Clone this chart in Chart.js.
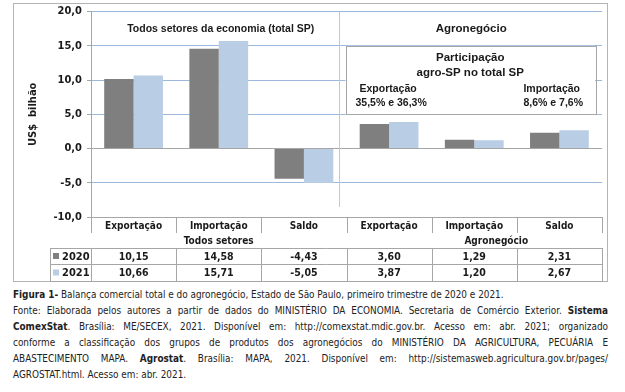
<!DOCTYPE html>
<html>
<head>
<meta charset="utf-8">
<script src="https://cdn.jsdelivr.net/npm/chart.js@4"></script>
<style>
body { margin:0; background:#fff; width:625px; height:392px; overflow:hidden; position:relative; }
#wrap { position:absolute; left:0; top:0; width:625px; height:285px; }
#caption { position:absolute; left:13px; top:287px; width:595px; font-family:"DejaVu Sans Condensed","DejaVu Sans",sans-serif; font-stretch:condensed; font-size:9.9px; line-height:16px; color:#222; }
#caption div { white-space:nowrap; }
#caption .j { text-align:justify; text-align-last:justify; white-space:normal; }
</style>
</head>
<body>
<div id="wrap"><canvas id="grafico"></canvas></div>
<div id="caption">
<div><b>Figura 1-</b> Balança comercial total e do agronegócio, Estado de São Paulo, primeiro trimestre de 2020 e 2021.</div>
<div class="j">Fonte: Elaborada pelos autores a partir de dados do MINISTÉRIO DA ECONOMIA. Secretaria de Comércio Exterior. <b>Sistema</b></div>
<div class="j"><b>ComexStat</b>. Brasília: ME/SECEX, 2021. Disponível em: http://comexstat.mdic.gov.br. Acesso em: abr. 2021; organizado</div>
<div class="j">conforme a classificação dos grupos de produtos dos agronegócios do MINISTÉRIO DA AGRICULTURA, PECUÁRIA E</div>
<div class="j">ABASTECIMENTO MAPA. <b>Agrostat</b>. Brasília: MAPA, 2021. Disponível em: http://sistemasweb.agricultura.gov.br/pages/</div>
<div>AGROSTAT.html. Acesso em: abr. 2021.</div>
</div>
<script>
// dados
const categorias = ['Exportação', 'Importação', 'Saldo', 'Exportação', 'Importação', 'Saldo'];
const grupos = ['Todos setores', 'Agronegócio'];
const anos = ['2020', '2021'];
const valores2020 = [10.15, 14.58, -4.43, 3.60, 1.29, 2.31];
const valores2021 = [10.66, 15.71, -5.05, 3.87, 1.20, 2.67];
const yTicks = [-10, -5, 0, 5, 10, 15, 20];
const titulos = ['Todos setores da economia (total SP)', 'Agronegócio'];
const participacao = ['Participação', 'agro-SP no total SP'];
const partExport = ['Exportação', '35,5% e 36,3%'];
const partImport = ['Importação', '8,6% e 7,6%'];

const cores = ['#7f7f7f', '#b9cde5'];
const FT = '"DejaVu Sans Condensed", "DejaVu Sans", sans-serif';
const FC = '"Liberation Sans", Arial, sans-serif';
const LINHA = '#a6a6a6';

function fmt(v) {
    return v.toFixed(2).replace('.', ',');
}

// desenha a tabela, as caixas e os textos extras
const extras = {
    id: 'extras',
    beforeDatasetsDraw(chart) {
        const ctx = chart.ctx;
        const x = chart.scales.x;
        const a = chart.chartArea;
        const div = (x.getPixelForValue(2) + x.getPixelForValue(3)) / 2;
        ctx.save();
        ctx.strokeStyle = '#c8c8c8';
        ctx.lineWidth = 1;
        ctx.beginPath();
        ctx.moveTo(Math.round(div - 8) + 0.5, a.top);
        ctx.lineTo(Math.round(div - 8) + 0.5, a.bottom - 10);
        ctx.stroke();
        ctx.restore();
    },
    afterDraw(chart) {
        const ctx = chart.ctx;
        const x = chart.scales.x;
        const y = chart.scales.y;
        const a = chart.chartArea;
        const w = x.getPixelForValue(1) - x.getPixelForValue(0);
        const bordas = [a.left];
        categorias.forEach((c, i) => bordas.push(x.getPixelForValue(i) + w / 2));
        const px = v => Math.round(v) + 0.5;

        ctx.save();
        // moldura externa
        ctx.strokeStyle = '#b4b4b4';
        ctx.lineWidth = 1;
        ctx.strokeRect(13.5, 3.5, 594, 278);

        // linhas da tabela
        ctx.strokeStyle = LINHA;
        const r0 = a.bottom, r1 = a.bottom + 16, r2 = a.bottom + 31, r3 = a.bottom + 47, r4 = a.bottom + 64;
        ctx.beginPath();
        bordas.forEach(b => {
            ctx.moveTo(px(b), r0); ctx.lineTo(px(b), r1);
            ctx.moveTo(px(b), r2); ctx.lineTo(px(b), r4);
        });
        const esq = a.left - 41;
        ctx.moveTo(px(esq), r2); ctx.lineTo(px(esq), r4);
        [r2, r3, r4].forEach(r => { ctx.moveTo(esq, px(r)); ctx.lineTo(a.right + 1, px(r)); });
        ctx.stroke();

        // textos da tabela
        ctx.fillStyle = '#1a1a1a';
        ctx.font = 'bold 10px ' + FT;
        ctx.textAlign = 'center';
        ctx.textBaseline = 'middle';
        categorias.forEach((c, i) => ctx.fillText(c, x.getPixelForValue(i), (r0 + r1) / 2 + 1));
        ctx.fillText(grupos[0], x.getPixelForValue(1), (r1 + r2) / 2 + 1);
        ctx.fillText(grupos[1], x.getPixelForValue(4) + 22, (r1 + r2) / 2 + 1);
        ctx.font = 'bold 10.5px ' + FT;
        valores2020.forEach((v, i) => ctx.fillText(fmt(v), x.getPixelForValue(i), (r2 + r3) / 2 + 1));
        valores2021.forEach((v, i) => ctx.fillText(fmt(v), x.getPixelForValue(i), (r3 + r4) / 2 + 1));

        // legenda dentro da tabela
        ctx.textAlign = 'left';
        ctx.font = 'bold 11px ' + FT;
        [[r2, r3], [r3, r4]].forEach((r, k) => {
            const m = (r[0] + r[1]) / 2;
            ctx.fillStyle = cores[k];
            ctx.fillRect(esq + 3, m - 3, 6, 6);
            ctx.fillStyle = '#1a1a1a';
            ctx.fillText(anos[k], esq + 12, m + 1);
        });

        // títulos das seções
        const faixa = (y.getPixelForValue(20) + y.getPixelForValue(15)) / 2;
        ctx.textAlign = 'center';
        ctx.font = 'bold 10.5px ' + FC;
        ctx.fillText(titulos[0], x.getPixelForValue(1) + 2, faixa);
        ctx.font = 'bold 11.5px ' + FC;
        ctx.fillText(titulos[1], x.getPixelForValue(4) - 3, faixa);

        // caixa de participação
        const bx0 = bordas[3] - 1, bx1 = a.right - 7;
        const by0 = y.getPixelForValue(15), by1 = y.getPixelForValue(5);
        ctx.fillStyle = '#fff';
        ctx.fillRect(bx0, by0, bx1 - bx0, by1 - by0);
        ctx.strokeStyle = LINHA;
        ctx.strokeRect(px(bx0), px(by0), Math.round(bx1 - bx0), Math.round(by1 - by0));
        ctx.fillStyle = '#1a1a1a';
        ctx.font = 'bold 11.5px ' + FC;
        const cx = (bx0 + bx1) / 2;
        ctx.fillText(participacao[0], cx, by0 + 12);
        ctx.fillText(participacao[1], cx, by0 + 27);
        ctx.font = 'bold 10.5px ' + FC;
        ctx.textAlign = 'left';
        ctx.fillText(partExport[0], bx0 + 14, by0 + 43);
        ctx.fillText(partExport[1], bx0 + 10, by0 + 57);
        ctx.textAlign = 'right';
        ctx.fillText(partImport[0], bx1 - 15, by0 + 43);
        ctx.fillText(partImport[1], bx1 - 12, by0 + 57);
        ctx.restore();
    }
};

new Chart('grafico', {
    type: 'bar',
    data: {
        labels: categorias,
        datasets: [{
            label: anos[0],
            data: valores2020,
            backgroundColor: cores[0]
        }, {
            label: anos[1],
            data: valores2021,
            backgroundColor: cores[1]
        }]
    },
    options: {
        responsive: true,
        maintainAspectRatio: false,
        animation: false,
        layout: { padding: { left: 0, right: 23, top: 10, bottom: 68 } },
        categoryPercentage: 0.69,
        barPercentage: 1.0,
        plugins: {
            legend: { display: false },
            tooltip: { enabled: false }
        },
        scales: {
            x: { display: false },
            y: {
                min: -10,
                max: 20,
                afterFit: s => { s.width = 91; },
                afterBuildTicks: s => { s.ticks = yTicks.map(v => ({ value: v })); },
                ticks: {
                    callback: v => v.toFixed(1).replace('.', ','),
                    font: { family: FT, size: 11, weight: 'bold' },
                    color: '#1a1a1a',
                    padding: 5
                },
                grid: {
                    color: c => (c.tick && (c.tick.value === 0 || c.tick.value === -10)) ? LINHA : '#9cb8dc',
                    tickColor: LINHA,
                    tickLength: 4
                },
                border: { color: LINHA },
                title: {
                    display: true,
                    text: 'US$  bilhão',
                    font: { family: FT, size: 11, weight: 'bold' },
                    color: '#1a1a1a',
                    padding: { top: 27, bottom: 0 }
                }
            }
        }
    },
    plugins: [extras]
});
</script>
</body>
</html>
